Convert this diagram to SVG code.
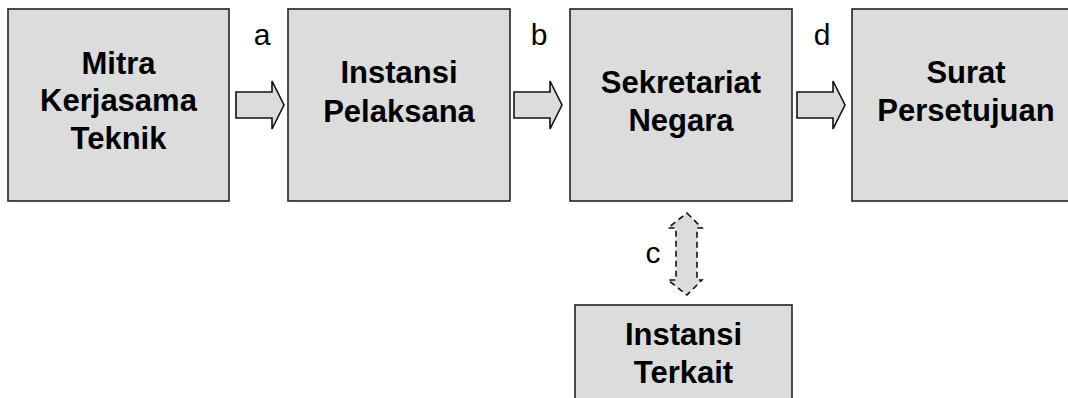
<svg xmlns="http://www.w3.org/2000/svg" width="1068" height="398" viewBox="0 0 1068 398">
<style>
.box{fill:#dcdcdc;stroke:#222;stroke-width:1.6}
.t{font-family:"Liberation Sans",Arial,sans-serif;font-weight:bold;font-size:31px;fill:#000;text-anchor:middle}
.l{font-family:"Liberation Sans",Arial,sans-serif;font-size:30px;fill:#000;text-anchor:middle}
.arr{fill:#dcdcdc;stroke:#111;stroke-width:1.6;stroke-linejoin:miter}
.darr{fill:#dcdcdc;stroke:#111;stroke-width:1.6;stroke-dasharray:6,4}
</style>
<rect width="1068" height="398" fill="#fff"/>
<g id="n1"><rect class="box" x="8" y="9" width="221" height="192"/>
<text class="t" x="118.5" y="74">Mitra</text><text class="t" x="118.5" y="111">Kerjasama</text><text class="t" x="118.5" y="149">Teknik</text></g>
<g id="n2"><rect class="box" x="288" y="9" width="222" height="192"/>
<text class="t" x="399" y="83">Instansi</text><text class="t" x="399" y="122">Pelaksana</text></g>
<g id="n3"><rect class="box" x="570" y="9" width="222" height="192"/>
<text class="t" x="681" y="93">Sekretariat</text><text class="t" x="681" y="131">Negara</text></g>
<g id="n4"><rect class="box" x="852" y="9" width="228" height="192"/>
<text class="t" x="966" y="83">Surat</text><text class="t" x="966" y="121">Persetujuan</text></g>
<g id="n5"><rect class="box" x="575" y="305" width="217" height="110"/>
<text class="t" x="683.5" y="345">Instansi</text><text class="t" x="683.5" y="383">Terkait</text></g>
<g id="connectors">
<path class="arr" d="M236,92 H272 V81 L284,105 L272,129 V118 H236 Z"/>
<path class="arr" d="M514,92 H550 V81 L562,105 L550,129 V118 H514 Z"/>
<path class="arr" d="M797,92 H833 V81 L845,105 L833,129 V118 H797 Z"/>
<path class="darr" d="M687,213 L702,228 H697 V280 H702 L687,295 L668,280 H676 V228 H668 Z"/>
<text class="l" x="262" y="45">a</text>
<text class="l" x="539" y="45">b</text>
<text class="l" x="653" y="263">c</text>
<text class="l" x="822" y="45">d</text>
</g>
</svg>
